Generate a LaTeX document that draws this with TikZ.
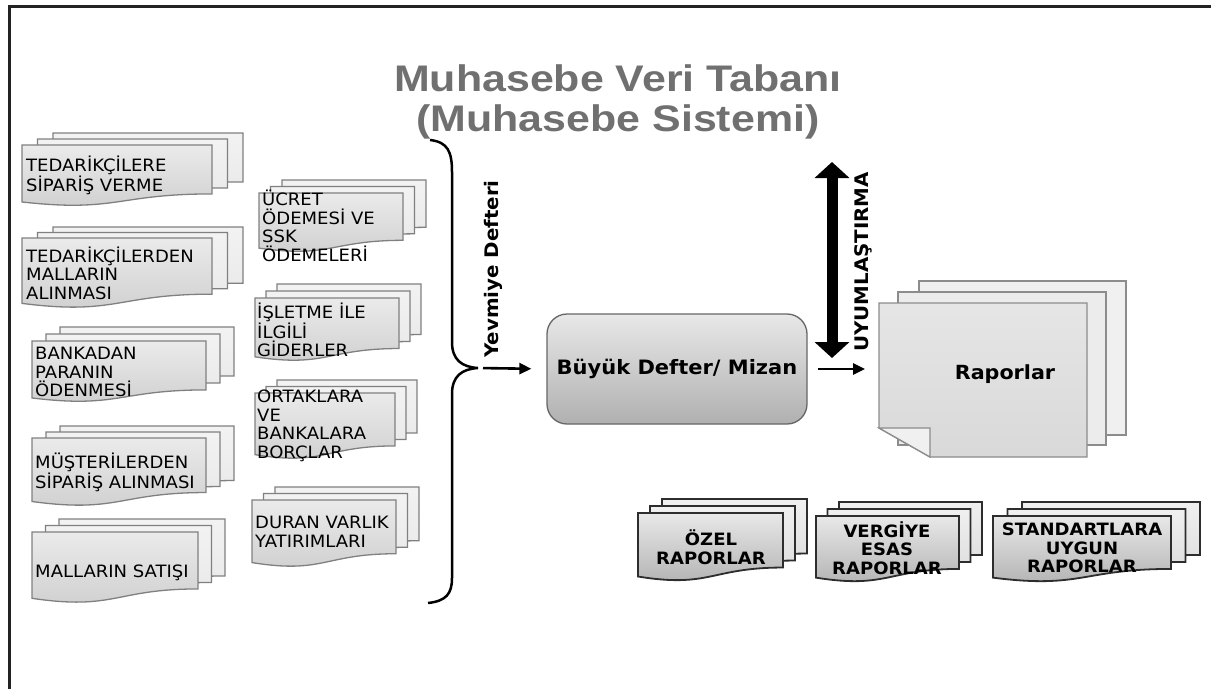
\documentclass[tikz,border=0pt]{standalone}
\usepackage{fontspec}
\setmainfont[FakeStretch=1.06]{DejaVu Sans}
\newfontfamily\titlefont[FakeStretch=1.16]{Liberation Sans}
\usepackage{tikz}
\usetikzlibrary{arrows.meta,positioning,calc}
\definecolor{sheetline}{RGB}{128,128,128}
\definecolor{repline}{RGB}{45,45,45}
\definecolor{titlegray}{RGB}{112,112,112}
\definecolor{framegray}{RGB}{35,35,35}

% one document sheet with a wavy lower edge: style, x, y, width, height
\newcommand{\wavesheet}[5]{%
  \path[#1] (#2,#3) -- ++(#4,0) -- ++(0,0.802*#5)
    .. controls +(-0.5*#4,0) and +(0.5*#4,0.1735*#5) .. ++(-#4,0.132*#5) -- cycle;}
% three sheets on top of each other: back style, front style, x, y, width, height, dx, dy
\newcommand{\docstack}[8]{%
  \wavesheet{#1}{#3+2*#7}{#4-2*#8}{#5}{#6}
  \wavesheet{#1}{#3+#7}{#4-#8}{#5}{#6}
  \wavesheet{#2}{#3}{#4}{#5}{#6}}

\begin{document}
\begin{tikzpicture}[x=1pt, y=-1pt,
    lback/.style={draw=sheetline, line width=1.3pt, top color=gray!10, bottom color=gray!18},
    lfront/.style={draw=sheetline, line width=1.3pt, top color=gray!16, bottom color=gray!38},
    rback/.style={draw=repline, line width=1.8pt, top color=gray!12, bottom color=gray!28},
    rfront/.style={draw=repline, line width=1.8pt, top color=gray!18, bottom color=gray!62},
    ltext/.style={align=left, inner sep=0pt, font=\fontsize{17}{18.5}\selectfont},
    rtext/.style={align=center, inner sep=0pt, font=\bfseries\fontsize{17}{18.5}\selectfont},
    boldlabel/.style={inner sep=0pt, font=\bfseries\fontsize{18.7}{22}\selectfont},
    bigbox/.style={draw=gray!80!black, line width=1.3pt, rounded corners=20pt, top color=gray!18, bottom color=gray!62,
      minimum width=260pt, minimum height=110pt, font=\bfseries\fontsize{19.8}{22}\selectfont},
    titletext/.style={align=center, text=titlegray, font=\titlefont\bfseries\fontsize{37}{40}\selectfont},
    arr/.style={-{Triangle[length=12pt,width=11pt]}, line width=2.6pt},
    dblarr/.style={{Triangle[length=16pt,width=34pt]}-{Triangle[length=16pt,width=34pt]}, line width=11pt}
]
\useasboundingbox (0,0) rectangle (1211,689);

% frame
\coordinate (frBL) at (9,689);
\coordinate (frTL) at (9,6);
\coordinate (frTR) at (1211,6);
\draw[framegray, line width=3pt] (frBL) -- (frTL) -- (frTR);

% title
\node[titletext] (title) at (618,102) {Muhasebe Veri Tabanı\\(Muhasebe Sistemi)};

% left column
\docstack{lback}{lfront}{22}{145}{190}{61}{15.5}{6}
\docstack{lback}{lfront}{22}{238}{190}{70}{15.5}{5.5}
\docstack{lback}{lfront}{32}{341}{174}{61}{14}{7}
\docstack{lback}{lfront}{32}{438}{174}{68}{14}{6}
\docstack{lback}{lfront}{32}{532}{166}{71}{13.5}{6.5}
\node[ltext, anchor=west] (tedsip) at (26,175) {TEDARİKÇİLERE\\SİPARİŞ VERME};
\node[ltext, anchor=west] (tedmal) at (26,273) {TEDARİKÇİLERDEN\\MALLARIN\\ALINMASI};
\node[ltext, anchor=west] (banka) at (35,372) {BANKADAN\\PARANIN\\ÖDENMESİ};
\node[ltext, anchor=west] (musteri) at (35,472) {MÜŞTERİLERDEN\\SİPARİŞ ALINMASI};
\node[ltext, anchor=west] (satis) at (35,573) {MALLARIN SATIŞI};

% middle column
\docstack{lback}{lfront}{259}{193}{144}{59}{11.5}{6.5}
\docstack{lback}{lfront}{255}{298}{144}{63}{11}{7}
\docstack{lback}{lfront}{255}{393}{140}{66}{11}{6.5}
\docstack{lback}{lfront}{252}{500}{144}{67}{11.5}{6.5}
\node[ltext, anchor=west] (ucret) at (262,226) {ÜCRET\\ÖDEMESİ VE\\SSK\\ÖDEMELERİ};
\node[ltext, anchor=west] (isletme) at (257,330) {İŞLETME İLE\\İLGİLİ\\GİDERLER};
\node[ltext, anchor=west] (ortak) at (257,426) {ORTAKLARA\\VE\\BANKALARA\\BORÇLAR};
\node[ltext, anchor=west] (duran) at (255,532) {DURAN VARLIK\\YATIRIMLARI};

% brace
\coordinate (brTop) at (430,140);
\coordinate (brTip) at (478,368);
\coordinate (brBot) at (428,603);
\draw[line width=2.5pt] (brTop) .. controls (448,142) and (452,152) .. (452,172) -- (452,342)
  .. controls (452,360) and (462,367) .. (brTip)
  .. controls (462,369) and (452,376) .. (452,394) -- (452,578)
  .. controls (452,594) and (446,601) .. (brBot);
\node[boldlabel, rotate=90] (yevmiye) at (493,269) {Yevmiye Defteri};

% ledger
\node[bigbox] (buyuk) at (677,369) {Büyük Defter/ Mizan};
\draw[arr, shorten <=5pt, shorten >=15pt] (brTip) -- (buyuk.west);

% reconciliation
\coordinate (uyuTop) at (832,162);
\coordinate (uyuBot) at (832,358);
\draw[dblarr] (uyuTop) -- (uyuBot);
\node[boldlabel, rotate=90] (uyum) at (863,262) {UYUMLAŞTIRMA};

% reports
\path[draw=gray!90, line width=1.3pt, fill=gray!12] (919,281) rectangle (1126,435);
\path[draw=gray!90, line width=1.3pt, fill=gray!15] (898,292) rectangle (1106,445);
\path[draw=gray!90, line width=1.3pt, top color=gray!20, bottom color=gray!30]
  (879,303) -- (1087,303) -- (1087,457) -- (930,457) -- (879,428) -- cycle;
\path[draw=gray!90, line width=1.3pt, fill=gray!12] (879,428) -- (930,428) -- (930,457) -- cycle;
\node[boldlabel, font=\bfseries\fontsize{19.5}{22}\selectfont] (raporlar) at (1005,374) {Raporlar};
\coordinate (rapIn) at (865,369);
\draw[arr, shorten <=10pt] (buyuk.east) -- (rapIn);

% report types
\docstack{rback}{rfront}{638}{513}{145}{68}{12}{7}
\docstack{rback}{rfront}{816}{516}{143}{66}{11.5}{7}
\docstack{rback}{rfront}{993}{516}{178}{66}{14.5}{7}
\node[rtext] (ozel) at (711,547) {ÖZEL\\RAPORLAR};
\node[rtext] (vergi) at (887,548) {VERGİYE\\ESAS\\RAPORLAR};
\node[rtext] (standart) at (1082,548) {STANDARTLARA\\UYGUN\\RAPORLAR};
\end{tikzpicture}
\end{document}
